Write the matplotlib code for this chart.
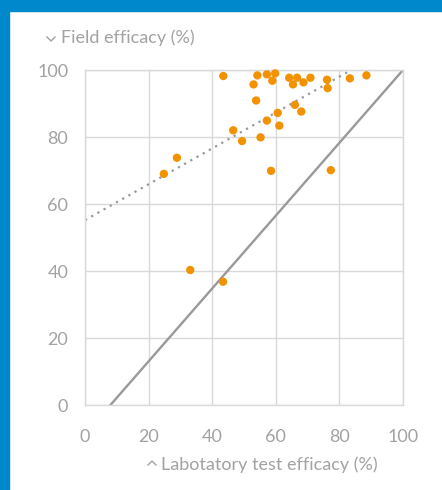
import matplotlib.pyplot as plt
from matplotlib.patches import Rectangle
from matplotlib.lines import Line2D
import numpy as np

# lab vs field efficacy (%)
lab = [43.5, 54.2, 57.2, 59.8, 53.0, 58.9, 64.2, 66.7, 65.4, 68.7, 70.9,
       76.1, 76.3, 83.3, 88.5, 53.8, 66.0, 68.0, 60.6, 57.2, 61.1, 46.6,
       49.4, 55.2, 28.9, 24.8, 58.5, 77.3, 33.1, 43.4]
field = [98.2, 98.4, 98.7, 99.0, 95.7, 96.8, 97.7, 97.7, 95.7, 96.3, 97.7,
         97.1, 94.6, 97.5, 98.4, 90.9, 89.6, 87.6, 87.2, 84.9, 83.4, 82.0,
         78.8, 79.9, 73.8, 69.0, 69.9, 70.1, 40.3, 36.8]

# fitted lines: slope, intercept
solid_fit = [1.087, -8.7]
dotted_fit = [0.535, 55.2]
ticks = [0, 20, 40, 60, 80, 100]

grey_txt = '#a2a2a2'
grid_c = '#d9d9d9'
plt.rcParams['font.family'] = ['Lato', 'DejaVu Sans']

W, H = 442, 490
fig = plt.figure(figsize=(W/100, H/100), dpi=100)
fig.patches.append(Rectangle((0, 1 - 11/H), 1, 11/H, transform=fig.transFigure,
                             color='#0088cc', zorder=0))
fig.patches.append(Rectangle((0, 0), 9/W, 1, transform=fig.transFigure,
                             color='#0088cc', zorder=0))

ax = fig.add_axes([85/W, 1 - 405/H, 318/W, 335/H])
ax.set_xlim(0, 100)
ax.set_ylim(0, 100)
ax.set_xticks(ticks)
ax.set_yticks(ticks)
ax.grid(True, color=grid_c, lw=1)
for s in ax.spines.values():
    s.set_color(grid_c)
    s.set_linewidth(1)
ax.tick_params(length=0, colors=grey_txt, labelsize=13)
ax.tick_params(axis='x', pad=17)
ax.tick_params(axis='y', pad=12)

# solid line
xs = np.linspace(0, 100, 200)
ys = np.polyval(solid_fit, xs)
m = ys >= 0
ax.plot(xs[m], ys[m], color='#999999', lw=1.7, zorder=2)

# dotted line
xd = np.linspace(0, (100 - dotted_fit[1]) / dotted_fit[0], 100)
ax.plot(xd, np.polyval(dotted_fit, xd), color='#999999', lw=1.6, ls=(0, (1, 2.2)), zorder=2)

ax.scatter(lab, field, s=36, color='#f39200', edgecolors='none', zorder=3, clip_on=False)

# axis titles with small chevrons
def px(x, y):
    return x / W, 1 - y / H

cx, cy = zip(px(47, 37), px(51, 41), px(55, 37))
fig.add_artist(Line2D(cx, cy, color=grey_txt, lw=1))
cx, cy = zip(px(148, 465), px(152, 461), px(156, 465))
fig.add_artist(Line2D(cx, cy, color=grey_txt, lw=1))

fig.text(*px(61, 38), 'Field efficacy (%)', color=grey_txt, fontsize=13,
         va='center', ha='left')
fig.text(*px(161, 465), 'Labotatory test efficacy (%)', color=grey_txt, fontsize=13,
         va='center', ha='left')

plt.savefig('out.png', dpi=100)
plt.close()
